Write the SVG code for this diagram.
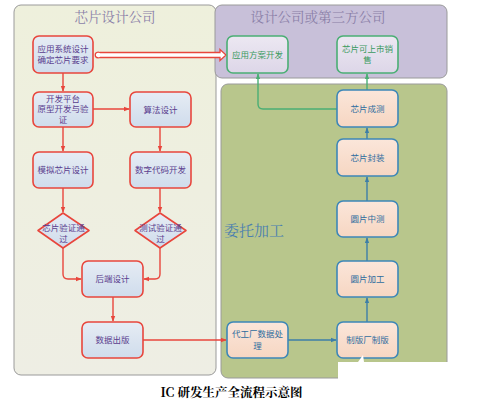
<svg xmlns="http://www.w3.org/2000/svg" width="486" height="407" viewBox="0 0 486 407">
<defs>
<linearGradient id="gLeft" x1="0" y1="0" x2="0" y2="1"><stop offset="0" stop-color="#eef0dc"/><stop offset="1" stop-color="#eeeee4"/></linearGradient>
<linearGradient id="gNodeR" x1="0" y1="0" x2="0" y2="1"><stop offset="0" stop-color="#e6ecf4"/><stop offset="1" stop-color="#cfdcec"/></linearGradient>
<linearGradient id="gNodeB" x1="0" y1="0" x2="0" y2="1"><stop offset="0" stop-color="#fbe6da"/><stop offset="1" stop-color="#f6d6c2"/></linearGradient>
<linearGradient id="gNodeG" x1="0" y1="0" x2="0" y2="1"><stop offset="0" stop-color="#ece8f2"/><stop offset="1" stop-color="#ddd6e8"/></linearGradient>
<marker id="aR" viewBox="0 0 8 8" refX="7" refY="4" markerWidth="6" markerHeight="6" orient="auto" markerUnits="userSpaceOnUse"><path d="M0,1 L8,4 L0,7 z" fill="#e8463c"/></marker>
<marker id="aB" viewBox="0 0 8 8" refX="7" refY="4" markerWidth="6" markerHeight="6" orient="auto" markerUnits="userSpaceOnUse"><path d="M0,1 L8,4 L0,7 z" fill="#3d7ea8"/></marker>
<marker id="aG" viewBox="0 0 8 8" refX="7" refY="4" markerWidth="6" markerHeight="6" orient="auto" markerUnits="userSpaceOnUse"><path d="M0,1 L8,4 L0,7 z" fill="#4aae74"/></marker>
</defs>
<style>
.title{font-family:"Noto Serif CJK SC","Noto Sans CJK SC",serif;font-size:13.5px;text-anchor:middle}
.nr{fill:url(#gNodeR);stroke:#e8463c;stroke-width:1.6}
.nb{fill:url(#gNodeB);stroke:#3d87b8;stroke-width:1.6}
.ng{fill:url(#gNodeG);stroke:#4aae74;stroke-width:1.6}
.tr{font-family:"Noto Sans CJK SC",sans-serif;font-size:8.5px;fill:#5a3d8e;text-anchor:middle}
.tb{font-family:"Noto Sans CJK SC",sans-serif;font-size:8.5px;fill:#2e6c9e;text-anchor:middle}
.tg{font-family:"Noto Sans CJK SC",sans-serif;font-size:8.5px;fill:#3a9a5e;text-anchor:middle}
.cr{fill:none;stroke:#e8463c;stroke-width:1.4}
.cb{fill:none;stroke:#3d7ea8;stroke-width:1.4}
.cg{fill:none;stroke:#4aae74;stroke-width:1.4}
</style>
<rect width="486" height="407" fill="#ffffff"/>
<g id="panel-design">
<rect x="14" y="5" width="202" height="370" rx="7" fill="url(#gLeft)" stroke="#9a9a9a" stroke-width="1"/>
<text class="title" x="115" y="22" fill="#8a7fa8">芯片设计公司</text>
</g>
<g id="panel-third">
<rect x="215" y="5" width="232" height="73" rx="7" fill="#c8c0d9" stroke="#9a9a9a" stroke-width="1"/>
<text class="title" x="318" y="22" fill="#8a7fa8">设计公司或第三方公司</text>
</g>
<g id="panel-foundry">
<rect x="221" y="84" width="226" height="294" rx="7" fill="#b8c68c" stroke="#9a9a9a" stroke-width="1"/>
<text x="224" y="236" font-family="Noto Serif CJK SC,Noto Sans CJK SC,serif" font-size="15" fill="#4a7fb0">委托加工</text>
</g>
<g id="connectors">
<line class="cr" x1="63" y1="73" x2="63" y2="91" marker-end="url(#aR)"/>
<line class="cr" x1="93" y1="109" x2="129" y2="109" marker-end="url(#aR)"/>
<line class="cr" x1="63" y1="127" x2="63" y2="151" marker-end="url(#aR)"/>
<line class="cr" x1="160" y1="127" x2="160" y2="151" marker-end="url(#aR)"/>
<line class="cr" x1="63" y1="188" x2="63" y2="212" marker-end="url(#aR)"/>
<line class="cr" x1="160" y1="188" x2="160" y2="212" marker-end="url(#aR)"/>
<path class="cr" d="M63,248 V274 Q63,279 68,279 H81" marker-end="url(#aR)"/>
<path class="cr" d="M160,248 V274 Q160,279 155,279 H144" marker-end="url(#aR)"/>
<line class="cr" x1="113" y1="297" x2="113" y2="321" marker-end="url(#aR)"/>
<line class="cr" x1="143" y1="340" x2="226" y2="340" marker-end="url(#aR)"/>
<line class="cb" x1="288" y1="340" x2="336" y2="340" marker-end="url(#aB)"/>
<line class="cb" x1="367" y1="322" x2="367" y2="298" marker-end="url(#aB)"/>
<line class="cb" x1="367" y1="261" x2="367" y2="238" marker-end="url(#aB)"/>
<line class="cb" x1="367" y1="201" x2="367" y2="177" marker-end="url(#aB)"/>
<line class="cb" x1="367" y1="139" x2="367" y2="128" marker-end="url(#aB)"/>
<line class="cg" x1="367" y1="90" x2="367" y2="74" marker-end="url(#aG)"/>
<path class="cg" d="M337,109 H263 Q258,109 258,104 V74" marker-end="url(#aG)"/>
<path d="M100,52.5 H220 V49.5 L226,55 L220,60.5 V57.5 H100 Q97,58.5 95.5,56.5 Q95,55 95.5,53.5 Q97,51.5 100,52.5 z" fill="#ffffff" stroke="#e8463c" stroke-width="1.3"/>
</g>
<g id="n-app-sys"><rect class="nr" x="33" y="36" width="60" height="37" rx="6"/><text class="tr" x="63" y="52">应用系统设计</text><text class="tr" x="63" y="63">确定芯片要求</text></g>
<g id="n-proto"><rect class="nr" x="33" y="92" width="60" height="35" rx="6"/><text class="tr" x="63" y="101.5" font-size="8">开发平台</text><text class="tr" x="63" y="112" font-size="8">原型开发与验</text><text class="tr" x="63" y="122.5" font-size="8">证</text></g>
<g id="n-algo"><rect class="nr" x="130" y="92" width="61" height="35" rx="6"/><text class="tr" x="160.5" y="112.5">算法设计</text></g>
<g id="n-analog"><rect class="nr" x="33" y="152" width="60" height="36" rx="6"/><text class="tr" x="63" y="173">模拟芯片设计</text></g>
<g id="n-digital"><rect class="nr" x="130" y="152" width="61" height="36" rx="6"/><text class="tr" x="160.5" y="173">数字代码开发</text></g>
<g id="n-chipver"><path class="nr" d="M63,213 L89,230.5 L63,248 L38,230.5 z" stroke-linejoin="round"/><text class="tr" x="63.5" y="231">芯片验证通</text><text class="tr" x="63.5" y="242">过</text></g>
<g id="n-testver"><path class="nr" d="M160,213 L186,230.5 L160,248 L135,230.5 z" stroke-linejoin="round"/><text class="tr" x="160.5" y="231">测试验证通</text><text class="tr" x="160.5" y="242">过</text></g>
<g id="n-backend"><rect class="nr" x="82" y="261" width="61" height="36" rx="6"/><text class="tr" x="112.5" y="282">后端设计</text></g>
<g id="n-tapeout"><rect class="nr" x="82" y="322" width="61" height="36" rx="6"/><text class="tr" x="112.5" y="343">数据出版</text></g>
<g id="n-appdev"><rect class="ng" x="227" y="36" width="61" height="37" rx="6"/><text class="tg" x="257.5" y="57.5">应用方案开发</text></g>
<g id="n-market"><rect class="ng" x="337" y="36" width="61" height="37" rx="6"/><text class="tg" x="367.5" y="52">芯片可上市销</text><text class="tg" x="367.5" y="63">售</text></g>
<g id="n-ft"><rect class="nb" x="337" y="90" width="61" height="37" rx="6"/><text class="tb" x="367.5" y="111.5">芯片成测</text></g>
<g id="n-pkg"><rect class="nb" x="337" y="139" width="61" height="37" rx="6"/><text class="tb" x="367.5" y="160.5">芯片封装</text></g>
<g id="n-cp"><rect class="nb" x="337" y="201" width="61" height="36" rx="6"/><text class="tb" x="367.5" y="222">圆片中测</text></g>
<g id="n-wafer"><rect class="nb" x="337" y="261" width="61" height="36" rx="6"/><text class="tb" x="367.5" y="282">圆片加工</text></g>
<g id="n-mask"><rect class="nb" x="337" y="322" width="61" height="36" rx="6"/><text class="tb" x="367.5" y="343">制版厂制版</text></g>
<g id="n-fabdata"><rect class="nb" x="227" y="322" width="61" height="36" rx="6"/><text class="tb" x="257.5" y="337">代工厂数据处</text><text class="tb" x="257.5" y="349">理</text></g>
<path d="M338,362 H358 L363,355 L364,362 H450 V388 H338 z" fill="#ffffff"/>
<text x="231.5" y="397" font-family="Noto Serif CJK SC,Noto Sans CJK SC,serif" font-weight="bold" font-size="12.5" text-anchor="middle" fill="#000">IC 研发生产全流程示意图</text>
</svg>
